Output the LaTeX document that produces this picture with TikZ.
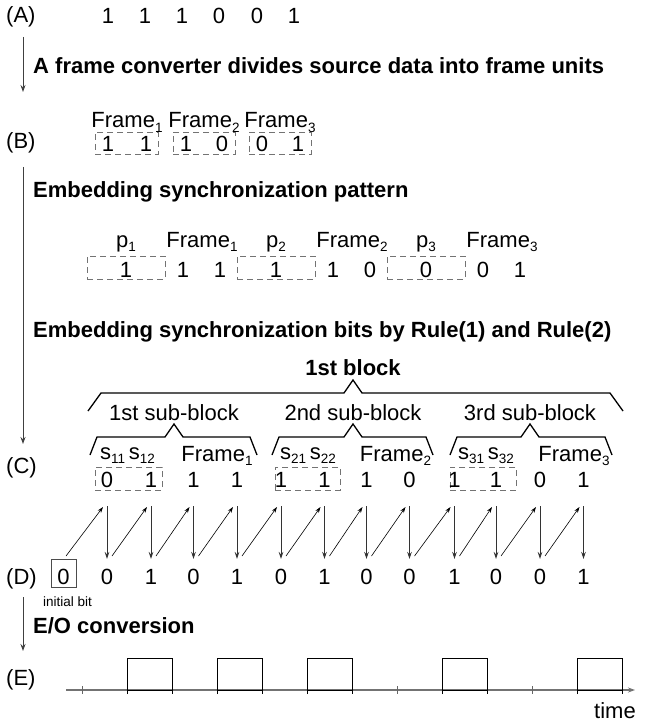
\documentclass[tikz,border=0pt]{standalone}
\usepackage{fontspec}
\setmainfont{Liberation Sans}
\usetikzlibrary{arrows.meta}
\newcommand{\sbx}[1]{\raisebox{-4.5pt}{\fontsize{13.5}{14}\selectfont #1}}
\begin{document}
\begin{tikzpicture}[x=1pt,y=-1pt,
  txt/.style={inner sep=0pt, font=\fontsize{22}{26}\selectfont},
  lbl/.style={txt, anchor=base west},
  bld/.style={inner sep=0pt, anchor=base west, font=\fontsize{22}{26}\selectfont\bfseries},
  dig/.style={inner sep=0pt, anchor=base, font=\fontsize{22}{26}\selectfont},
  dbox/.style={draw=black!55, dash pattern=on 6pt off 4pt, line width=0.9pt, inner sep=0pt},
  arr/.style={draw=black!75, line width=0.9pt, -{Stealth[length=7pt,width=5pt]}},
  varr/.style={draw=black!80, line width=0.8pt, -{Stealth[length=7pt,width=4.5pt]}},
  darr/.style={draw=black, line width=0.6pt, -{Stealth[length=6pt,width=4pt]}},
  brace/.style={draw=black, line width=1.3pt, line join=miter},
  tick/.style={draw=black!60, line width=0.9pt},
  pulse/.style={draw=black, line width=0.9pt},
  waxis/.style={draw=black!55, line width=1.3pt, -{Stealth[length=7pt,width=5pt]}},
]
\useasboundingbox (0,0) rectangle (669,727);

% ---------- (A)
\node[lbl] (lA) at (6,23) {(A)};
\foreach \x/\b [count=\i] in {108/1,145/1,182/1,219/0,257/0,294/1}
  \node[dig] (a\i) at (\x,24) {\b};
\coordinate (ar1s) at (23,37);
\coordinate (ar1e) at (23,92);
\draw[arr] (ar1s) -- (ar1e);
\node[bld] (t1) at (33,74) {A frame converter divides source data into frame units};

% ---------- (B)
\node[lbl] (lB) at (6,149) {(B)};
\foreach \x [count=\i] in {127,204,280}
  \node[txt, anchor=base] (bf\i) at (\x,128) {Frame\sbx{\i}};
\node[dbox, minimum width=63pt, minimum height=22pt] (bb1) at (126.5,143) {};
\node[dbox, minimum width=62pt, minimum height=22pt] (bb2) at (204,143) {};
\node[dbox, minimum width=62pt, minimum height=22pt] (bb3) at (280,143) {};
\foreach \x/\b [count=\i] in {108/1,146/1,186/1,222/0,262/0,298/1}
  \node[dig] (b\i) at (\x,152) {\b};

\coordinate (ar2s) at (23,167);
\coordinate (ar2e) at (23,444);
\draw[arr] (ar2s) -- (ar2e);
\node[bld] (t2) at (33,198) {Embedding synchronization pattern};

% ---------- p row
\foreach \x [count=\i] in {126,276,426}
  \node[txt, anchor=base] (pp\i) at (\x,247) {p\sbx{\i}};
\foreach \x [count=\i] in {202,352,502}
  \node[txt, anchor=base] (pf\i) at (\x,247) {Frame\sbx{\i}};
\foreach \x [count=\i] in {126,276,426}
  \node[dbox, minimum width=78pt, minimum height=23pt] (pb\i) at (\x,267.5) {};
\foreach \x/\b [count=\i] in {126/1,183/1,220/1,276/1,333/1,370/0,426/0,483/0,520/1}
  \node[dig] (pd\i) at (\x,277) {\b};

\node[bld] (t3) at (33,337) {Embedding synchronization bits by Rule(1) and Rule(2)};

% ---------- braces
\node[txt, font=\fontsize{22}{26}\selectfont\bfseries, anchor=base] (blk) at (353,375) {1st block};
\draw[brace] (88,411) -- (101,393) -- (344,393) -- (353,380) -- (362,393) -- (610,393) -- (623,411);
\node[txt, anchor=base] (sb1) at (174,420) {1st sub-block};
\node[txt, anchor=base] (sb2) at (353,420) {2nd sub-block};
\node[txt, anchor=base] (sb3) at (530,420) {3rd sub-block};
\draw[brace] (90,455) -- (97,437) -- (165,437) -- (174,424) -- (183,437) -- (250,437) -- (257,455);
\draw[brace] (272,455) -- (279,437) -- (344,437) -- (353,424) -- (362,437) -- (426,437) -- (433,455);
\draw[brace] (450,455) -- (457,437) -- (521,437) -- (530,424) -- (539,437) -- (605,437) -- (612,455);

\node[txt, anchor=base] (s1) at (127.5,459) {s\sbx{11}\,s\sbx{12}};
\node[txt, anchor=base] (s2) at (308,459) {s\sbx{21}\,s\sbx{22}};
\node[txt, anchor=base] (s3) at (486,459) {s\sbx{31}\,s\sbx{32}};
\foreach \x [count=\i] in {217,395.5,574}
  \node[txt, anchor=base] (cf\i) at (\x,461) {Frame\sbx{\i}};

% ---------- (C)
\node[lbl] (lC) at (6,473) {(C)};
\node[dbox, minimum width=67pt, minimum height=23pt] (cb1) at (128.5,478.5) {};
\node[dbox, minimum width=65pt, minimum height=23pt] (cb2) at (307.5,478.5) {};
\node[dbox, minimum width=66pt, minimum height=23pt] (cb3) at (483,478.5) {};
\foreach \x/\b [count=\i] in {107/0,151/1,193.5/1,237/1,281/1,324.5/1,366.5/1,409.5/0,454.5/1,496/1,540/0,583.5/1}
  \node[dig] (c\i) at (\x,487) {\b};

% ---------- (D)
\node[lbl] (lD) at (6,584) {(D)};
\node[draw=black!70, line width=0.9pt, minimum width=25pt, minimum height=28pt, inner sep=0pt] (d0box) at (63.5,573) {};
\node[dig] (d0) at (63.5,584) {0};
\foreach \x/\b [count=\i] in {107/0,151/1,193.5/0,237/1,281/0,324.5/1,366.5/0,409.5/0,454.5/1,496/0,540/0,583.5/1}
  \node[dig] (d\i) at (\x,584) {\b};
\node[inner sep=0pt, anchor=base west, font=\fontsize{13.5}{15}\selectfont] (ib) at (43,606) {initial bit};

% arrows between C and D
\foreach \x [count=\i] in {107,151,193.5,237,281,324.5,366.5,409.5,454.5,496,540,583.5} {
  \coordinate (vt\i) at (\x,506);
  \coordinate (vb\i) at (\x,559);
  \draw[varr] (vt\i) -- (vb\i);
  \coordinate (ge\i) at (\x-4,507);
}
\coordinate (gs1) at (66,556);
\foreach \x [count=\i from 2] in {107,151,193.5,237,281,324.5,366.5,409.5,454.5,496,540}
  \coordinate (gs\i) at (\x+5,556);
\foreach \i in {1,...,12}
  \draw[darr] (gs\i) -- (ge\i);

% ---------- E/O
\coordinate (ar3s) at (23,597);
\coordinate (ar3e) at (23,651);
\draw[arr] (ar3s) -- (ar3e);
\node[bld] (t4) at (33,633) {E/O conversion};

% ---------- (E)
\node[lbl] (lE) at (6,685) {(E)};
\coordinate (w0) at (66,690);
\coordinate (w1) at (635,690);
\draw[waxis] (w0) -- (w1);
\foreach \k in {0,...,12}
  \draw[tick] (82+45*\k,686) -- (82+45*\k,694);
\foreach \j in {1,3,5,8,11} {
  \draw[pulse] (82+45*\j,694) -- (82+45*\j,658) -- (127+45*\j,658) -- (127+45*\j,694);
  \draw[pulse] (82+45*\j,690) -- (127+45*\j,690);
}
\node[txt, anchor=base west] (tm) at (594,718) {time};
\end{tikzpicture}
\end{document}
